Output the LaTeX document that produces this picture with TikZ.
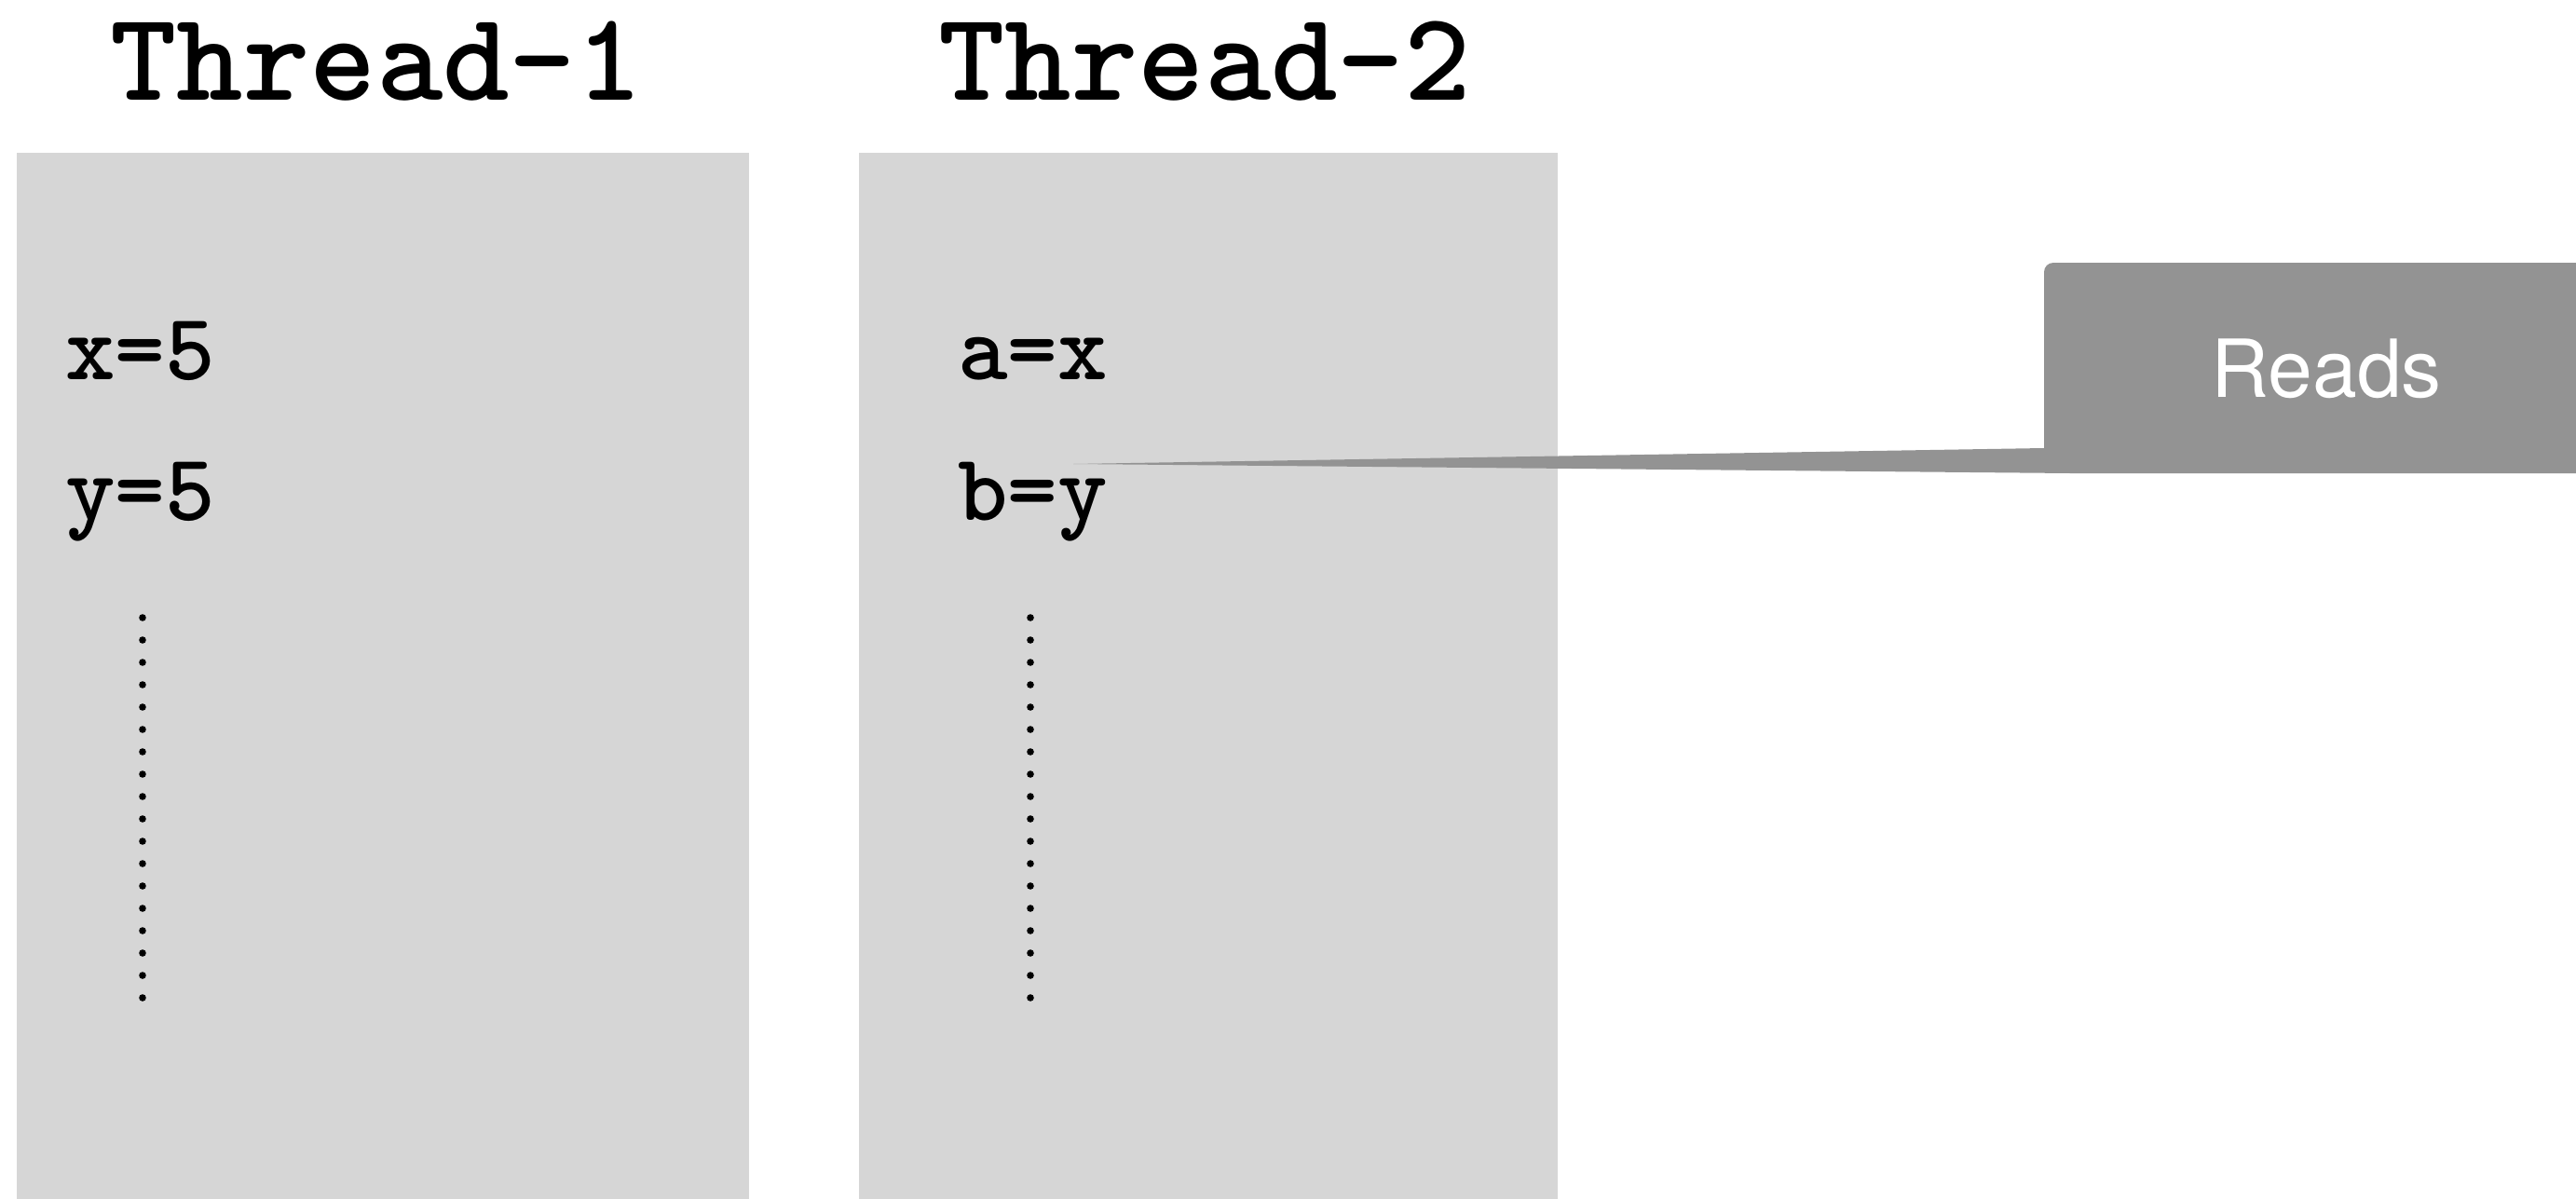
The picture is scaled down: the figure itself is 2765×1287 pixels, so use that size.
\documentclass[tikz,border=0pt]{standalone}
\usepackage{fontspec}
\newfontfamily\labelfont{TeX Gyre Heros}
\definecolor{lanegray}{HTML}{D6D6D6}
\definecolor{calloutgray}{HTML}{939393}
\tikzset{
  lane/.style={fill=lanegray},
  title/.style={anchor=base, inner sep=0pt, font=\ttfamily\bfseries\fontsize{136}{140}\selectfont},
  code/.style={anchor=base west, inner sep=0pt, font=\ttfamily\bfseries\fontsize{102}{106}\selectfont},
  callout/.style={fill=calloutgray},
  calltext/.style={anchor=base, inner sep=0pt, text=white, font=\labelfont\fontsize{86}{88}\selectfont},
  dotmark/.style={fill=black}
}
\begin{document}
\begin{tikzpicture}[x=1pt,y=-1pt]
  \useasboundingbox (0,0) rectangle (2765,1287);

  % thread lanes
  \fill[lane] (17.6,164) rectangle (804,1287);
  \fill[lane] (922,164) rectangle (1672,1287);

  % headings
  \node[title] (t1) at (404,108) {Thread-1};
  \node[title] (t2) at (1293,108) {Thread-2};

  % statements
  \node[code] (x5) at (70,407) {x=5};
  \node[code] (y5) at (70,558) {y=5};
  \node[code] (ax) at (1028,407) {a=x};
  \node[code] (by) at (1028,558) {b=y};

  % vertical ellipsis in each lane
  \foreach \i in {0,...,17} {
    \fill[dotmark] (153,663+24*\i) circle (3.8pt);
    \fill[dotmark] (1106,663+24*\i) circle (3.8pt);
  }

  % callout pointing at b=y
  \coordinate (tip) at (1152,498);
  \fill[callout] (tip) -- (2194,481) -- (2194,292) arc (180:90:10pt)
    -- (2765,282) -- (2765,508) -- (2222,508) -- cycle;
  \node[calltext] (reads) at (2497,426) {Reads};
\end{tikzpicture}
\end{document}
